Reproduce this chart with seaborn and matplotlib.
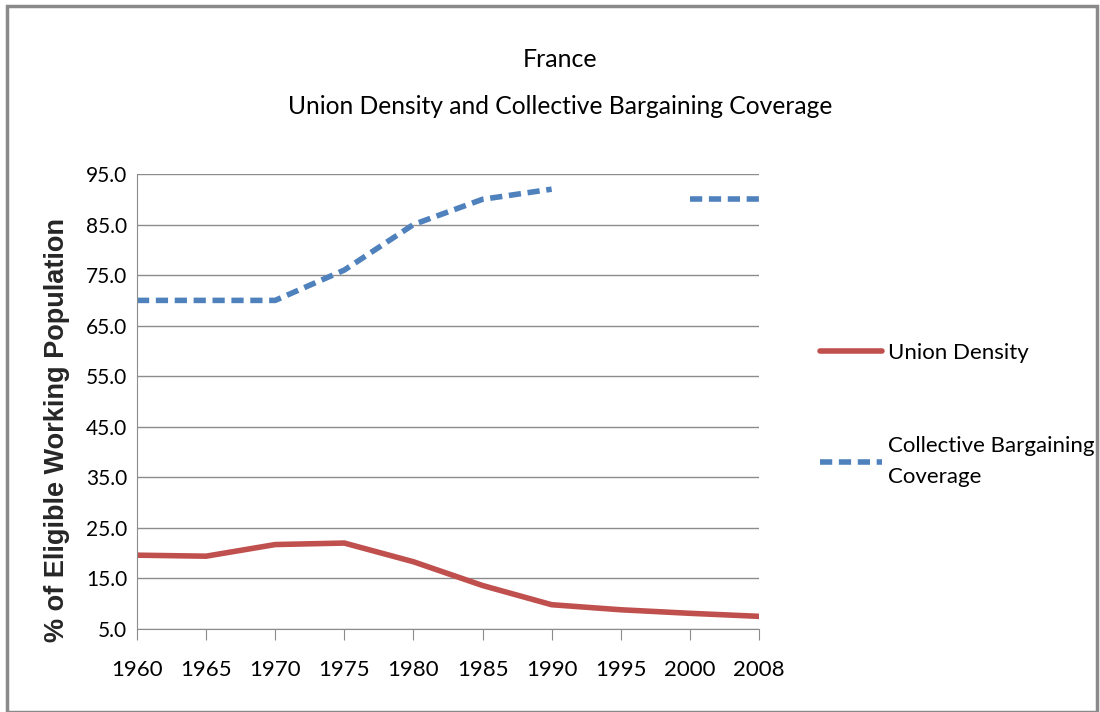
import numpy as np
import pandas as pd
import seaborn as sns
import matplotlib.pyplot as plt
from matplotlib.patches import Rectangle

years = ['1960', '1965', '1970', '1975', '1980', '1985', '1990', '1995', '2000', '2008']
union_density = [19.6, 19.4, 21.7, 22.0, 18.3, 13.6, 9.8, 8.8, 8.1, 7.5]
bargaining = [70.0, 70.0, 70.0, 76.0, 85.0, 90.0, 92.0, np.nan, 90.0, 90.0]
yticks = [5, 15, 25, 35, 45, 55, 65, 75, 85, 95]

rows = []
for name, vals in [('Union Density', union_density),
                   ('Collective Bargaining\nCoverage', bargaining)]:
    seg = 0
    for i, v in enumerate(vals):
        if np.isnan(v):
            seg += 1
            continue
        rows.append({'pos': i, 'value': v, 'series': name, 'seg': seg})
df = pd.DataFrame(rows)

sns.set_style('white')
plt.rcParams['font.family'] = ['Lato', 'DejaVu Sans']
plt.rcParams['text.color'] = 'black'
plt.rcParams['xtick.color'] = 'black'
plt.rcParams['ytick.color'] = 'black'

fig = plt.figure(figsize=(11, 7.12), dpi=100)
ax = fig.add_axes([0.1245, 0.1166, 0.5655, 0.639])

palette = {'Union Density': '#C0504D', 'Collective Bargaining\nCoverage': '#4F81BD'}
dashes = {'Union Density': '', 'Collective Bargaining\nCoverage': (2.2, 1.2)}
sns.lineplot(data=df, x='pos', y='value', hue='series', style='series',
             units='seg', estimator=None, palette=palette, dashes=dashes,
             linewidth=4, ax=ax, legend=True)

ax.set_xlim(0, len(years) - 1)
ax.set_ylim(5, 95)
ax.set_xticks(range(len(years)))
ax.set_xticklabels(years, fontsize=16)
ax.set_yticks(yticks)
ax.set_yticklabels([f'{v:.1f}' for v in yticks], fontsize=15)
ax.yaxis.grid(True, color='#8c8c8c', linewidth=1.0)
ax.set_axisbelow(True)
for s in ['top', 'right']:
    ax.spines[s].set_visible(False)
for s in ['left', 'bottom']:
    ax.spines[s].set_color('#8c8c8c')
ax.tick_params(axis='x', length=8, color='#8c8c8c', pad=14, direction='out', bottom=True)
ax.tick_params(axis='y', length=0, pad=7)
ax.set_xlabel('')
ax.set_ylabel('% of Eligible Working Population', fontsize=19.5, fontweight='bold',
              family=['Liberation Sans', 'DejaVu Sans'])
ax.yaxis.set_label_coords(-0.108, 0.437)

handles, labels = ax.get_legend_handles_labels()
leg = ax.legend(handles, labels, loc='center left', bbox_to_anchor=(1.098, 0.47),
                frameon=False, fontsize=16, handlelength=2.8, handletextpad=0.25,
                labelspacing=3.3, borderaxespad=0, borderpad=0)
for t in leg.get_texts():
    t.set_linespacing(1.7)

fig.text(0.509, 0.916, 'France', ha='center', va='center', fontsize=18)
fig.text(0.509, 0.850, 'Union Density and Collective Bargaining Coverage',
         ha='center', va='center', fontsize=17.7)

fig.patches.append(Rectangle((0.006, 0.0), 0.991, 0.992, transform=fig.transFigure,
                             fill=False, edgecolor='#8a8a8a', linewidth=2.5))

fig.savefig('out.png', dpi=100)
